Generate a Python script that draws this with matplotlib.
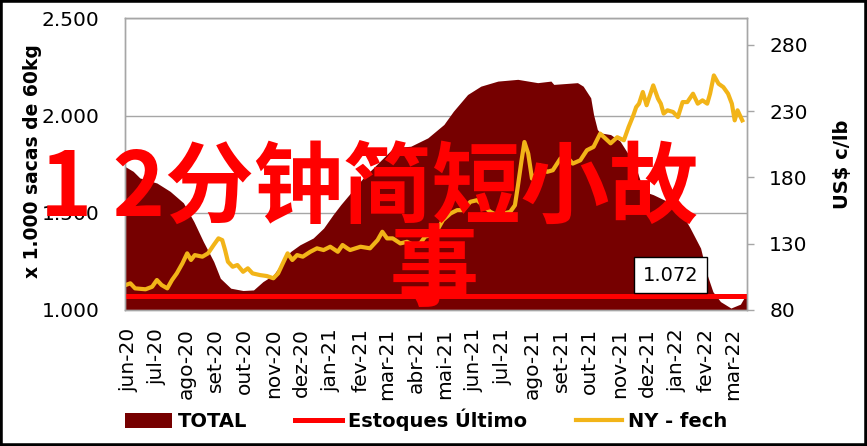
import matplotlib
matplotlib.use('Agg')
import matplotlib.pyplot as plt
import numpy as np
import pandas as pd
from matplotlib.ticker import FuncFormatter
from matplotlib.patches import Rectangle

# dados
total_dates = ['2020-05-28', '2020-06-06', '2020-06-13', '2020-07-01', '2020-07-15', '2020-07-29',
               '2020-08-09', '2020-08-19', '2020-08-30', '2020-09-06', '2020-09-17', '2020-09-30',
               '2020-10-11', '2020-10-21', '2020-11-01', '2020-11-11', '2020-11-19', '2020-11-29',
               '2020-12-13', '2020-12-24', '2021-01-03', '2021-01-11', '2021-02-04', '2021-03-08',
               '2021-03-26', '2021-04-13', '2021-04-30', '2021-05-10', '2021-05-25', '2021-06-08',
               '2021-06-26', '2021-07-17', '2021-08-07', '2021-08-21', '2021-08-24', '2021-09-18',
               '2021-09-24', '2021-10-02', '2021-10-05', '2021-10-09', '2021-10-12', '2021-10-23',
               '2021-11-02', '2021-11-11', '2021-11-20', '2021-11-27', '2021-12-07', '2021-12-22',
               '2022-01-05', '2022-01-15', '2022-01-26', '2022-02-02', '2022-02-08', '2022-02-16',
               '2022-02-27', '2022-03-09', '2022-03-16']
total_values = [1739, 1713, 1679, 1653, 1610, 1551, 1455, 1352, 1249, 1163, 1112, 1100,
                1103, 1146, 1180, 1249, 1300, 1335, 1370, 1421, 1490, 1541, 1680, 1835,
                1842, 1885, 1954, 2022, 2108, 2151, 2177, 2186, 2169, 2177, 2160, 2169,
                2151, 2091, 2005, 1928, 1911, 1902, 1868, 1799, 1713, 1610, 1593, 1558,
                1507, 1421, 1318, 1180, 1094, 1043, 1010, 1030, 1088]

ny_dates = ['2020-05-29', '2020-06-03', '2020-06-08', '2020-06-19', '2020-06-26', '2020-07-01',
            '2020-07-06', '2020-07-12', '2020-07-17', '2020-07-22', '2020-07-28', '2020-08-02',
            '2020-08-06', '2020-08-10', '2020-08-18', '2020-08-24', '2020-08-30', '2020-09-04',
            '2020-09-08', '2020-09-11', '2020-09-14', '2020-09-19', '2020-09-24', '2020-09-30',
            '2020-10-05', '2020-10-10', '2020-10-18', '2020-10-25', '2020-11-01', '2020-11-06',
            '2020-11-11', '2020-11-16', '2020-11-21', '2020-11-26', '2020-12-02', '2020-12-10',
            '2020-12-17', '2020-12-24', '2020-12-31', '2021-01-08', '2021-01-13', '2021-01-18',
            '2021-01-21', '2021-02-01', '2021-02-11', '2021-02-19', '2021-02-24', '2021-03-01',
            '2021-03-07', '2021-03-15', '2021-03-22', '2021-03-29', '2021-04-05', '2021-04-10',
            '2021-04-16', '2021-04-23', '2021-04-29', '2021-05-07', '2021-05-14', '2021-05-20',
            '2021-05-28', '2021-06-04', '2021-06-10', '2021-06-18', '2021-06-25', '2021-07-02',
            '2021-07-09', '2021-07-14', '2021-07-17', '2021-07-21', '2021-07-24', '2021-07-28',
            '2021-08-01', '2021-08-06', '2021-08-09', '2021-08-17', '2021-08-23', '2021-08-31',
            '2021-09-07', '2021-09-13', '2021-09-21', '2021-09-28', '2021-10-05', '2021-10-12',
            '2021-10-23', '2021-10-30', '2021-11-06', '2021-11-11', '2021-11-16', '2021-11-19',
            '2021-11-22', '2021-11-26', '2021-11-30', '2021-12-07', '2021-12-12', '2021-12-15',
            '2021-12-18', '2021-12-22', '2021-12-28', '2022-01-02', '2022-01-07', '2022-01-12',
            '2022-01-18', '2022-01-23', '2022-01-28', '2022-02-02', '2022-02-05', '2022-02-09',
            '2022-02-14', '2022-02-19', '2022-02-24', '2022-02-28', '2022-03-03', '2022-03-06',
            '2022-03-11']
ny_values = [98.8, 100.1, 96.3, 95.6, 97.5, 102.6,
             98.8, 96.3, 102.6, 107.6, 115.2, 122.7,
             117.7, 121.4, 120.2, 122.7, 129, 134,
             132.7, 125.2, 116.4, 112.6, 113.9, 108.8,
             111.4, 107.6, 106.3, 105.6, 103.9, 107.6,
             115.2, 122.7, 117.7, 121.4, 120.2, 123.9,
             126.5, 125.2, 127.7, 123.9, 129, 126.5,
             125.2, 127.7, 126.5, 132.7, 139, 134,
             134, 130.2, 131.4, 129, 130.2, 135.2,
             136.5, 140.2, 147.8, 152.8, 155.3, 155.3,
             161.6, 162.8, 159, 154, 151.5, 152.8,
             154, 159, 172.9, 192.9, 206.7, 198,
             179.1, 182.9, 189.2, 184.2, 185.4, 194.2,
             195.4, 190.4, 192.9, 200.5, 203, 213,
             205.7, 210.3, 208, 218, 226.8, 233,
             235.6, 244.4, 234.4, 249.4, 239.4, 235.6,
             228.1, 230.6, 229.3, 225.5, 236.8, 236.8,
             243.1, 235.6, 238.1, 235.6, 243.1, 256.9,
             250.6, 248.1, 243.1, 235.6, 223, 230.6,
             223]

estoque_ultimo = 1072

month_labels = ['jun-20', 'jul-20', 'ago-20', 'set-20', 'out-20', 'nov-20', 'dez-20',
                'jan-21', 'fev-21', 'mar-21', 'abr-21', 'mai-21', 'jun-21', 'jul-21',
                'ago-21', 'set-21', 'out-21', 'nov-21', 'dez-21', 'jan-22', 'fev-22', 'mar-22']
left_ticks = [1000, 1500, 2000, 2500]
right_ticks = [80, 130, 180, 230, 280]

td = pd.to_datetime(total_dates)
nd = pd.to_datetime(ny_dates)
months = pd.date_range('2020-06-01', periods=len(month_labels), freq='MS')

fig = plt.figure(figsize=(8.67, 4.46), dpi=100)
ax = fig.add_axes([0.1438, 0.305, 0.7178, 0.654])
ax2 = ax.twinx()

grey = '#A6A6A6'

h_total = ax.fill_between(td, 1000, total_values, color='#760000', lw=0, zorder=2)
h_est, = ax.plot([td[0], td[-1]], [estoque_ultimo, estoque_ultimo], color='#FF0000', lw=3.6, zorder=3)
h_ny, = ax2.plot(nd, ny_values, color='#F2B418', lw=3.0)

ax.set_xlim(td[0], td[-1])
ax.set_ylim(1000, 2500)
ax.set_yticks(left_ticks)
ax.yaxis.set_major_formatter(FuncFormatter(lambda v, p: f'{v:,.0f}'.replace(',', '.')))
ax.set_axisbelow(True)
ax.grid(axis='y', color=grey, lw=1)

ax2.set_ylim(80, 300)
ax2.set_yticks(right_ticks)

ax.set_xticks(months)
ax.set_xticklabels(month_labels, rotation=90, ha='center', va='top')

for a in (ax, ax2):
    for s in a.spines.values():
        s.set_color(grey)
        s.set_linewidth(1)

ax.tick_params(axis='y', length=0, pad=18, labelsize=14.5)
ax.tick_params(axis='x', length=0, pad=13, labelsize=14.5)
ax2.tick_params(axis='y', length=5, color=grey, width=1, pad=11, labelsize=14.5)

ax.set_ylabel('x 1.000 sacas de 60kg', fontsize=13.5, fontweight='bold')
ax.yaxis.set_label_coords(-0.133, 0.51)
ax2.set_ylabel('US$ c/lb', fontsize=14, fontweight='bold')
ax2.yaxis.set_label_coords(1.138, 0.5)

# rótulo do último estoque
ax.annotate(f'{estoque_ultimo:,.0f}'.replace(',', '.'), xy=(pd.Timestamp('2021-12-25'), estoque_ultimo),
            xytext=(0, 15), textcoords='offset points', ha='center', va='center', fontsize=14,
            bbox=dict(boxstyle='square,pad=0.45', fc='white', ec='black', lw=1), zorder=6)

fig.legend(handles=[h_total, h_est, h_ny], labels=['TOTAL', 'Estoques Último', 'NY - fech'],
           ncol=3, loc='center left', bbox_to_anchor=(125 / 867, 1 - 420 / 446),
           frameon=False, prop={'weight': 'bold', 'size': 14}, handlelength=2.4,
           handletextpad=0.3, columnspacing=2.5, borderpad=0, borderaxespad=0, handleheight=0.85)

# texto vermelho sobreposto
fig.text(369 / 867, 1 - 190 / 446, '1 2分钟简短小故', fontsize=64, color='#FF0000', fontweight='bold',
         family=['Noto Sans CJK SC', 'DejaVu Sans'], ha='center', va='center', zorder=10)
fig.text(434 / 867, 1 - 273 / 446, '事', fontsize=64, color='#FF0000', fontweight='bold',
         family=['Noto Sans CJK SC', 'DejaVu Sans'], ha='center', va='center', zorder=10)

fig.patches.append(Rectangle((0, 0), 1, 1, transform=fig.transFigure, fill=False,
                             edgecolor='black', lw=4, zorder=20))

fig.savefig('out.png', dpi=100)
